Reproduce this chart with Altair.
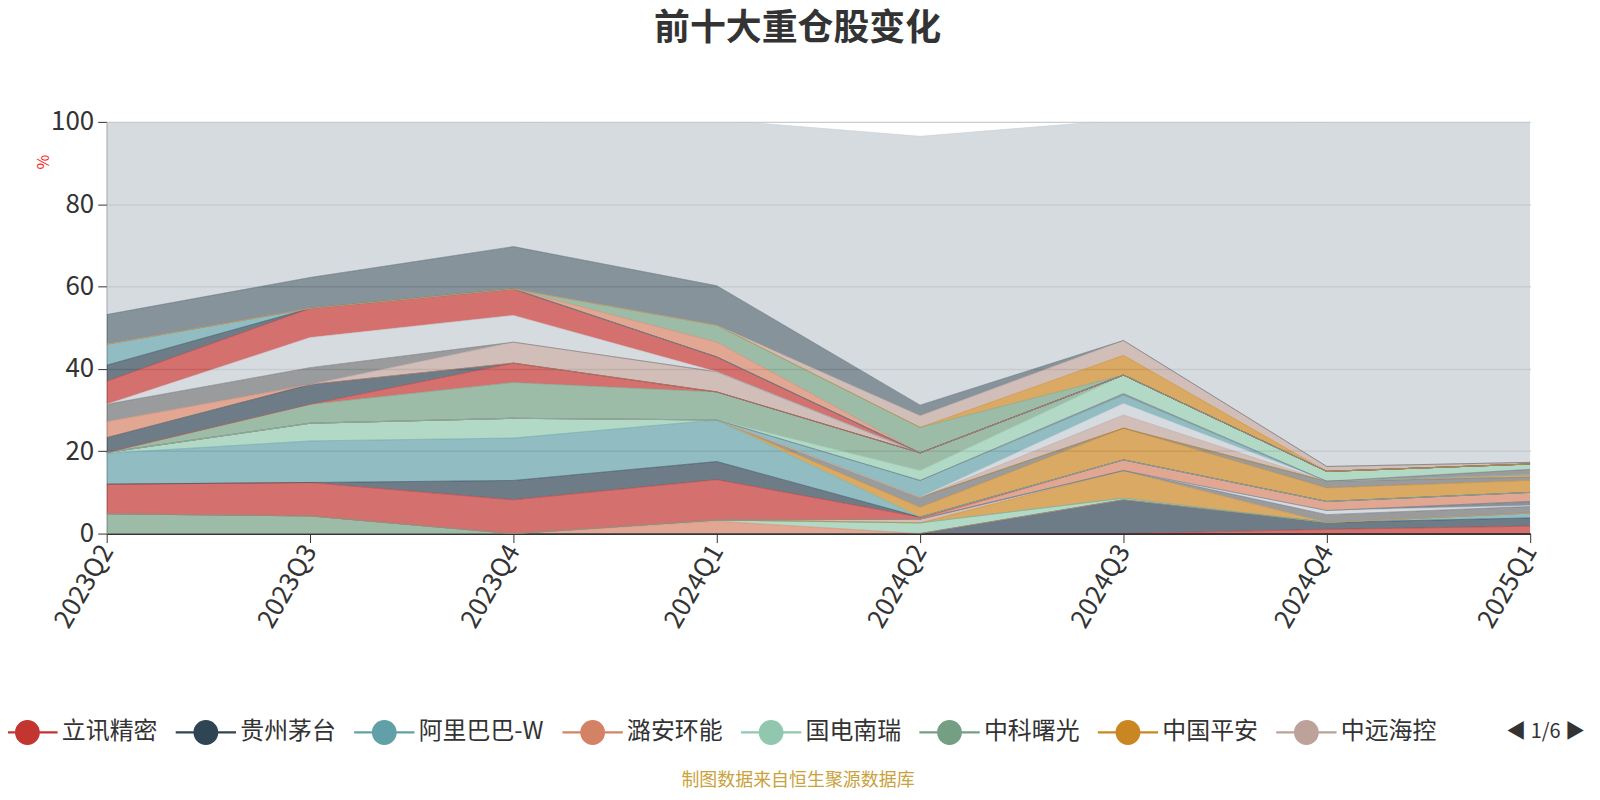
import altair as alt
import pandas as pd

QUARTERS = ["2023Q2", "2023Q3", "2023Q4", "2024Q1", "2024Q2", "2024Q3", "2024Q4", "2025Q1"]

PALETTE = {"R": "#c23531", "N": "#2f4554", "T": "#61a0a8", "S": "#d48265", "M": "#91c7ae",
           "G": "#749f83", "O": "#ca8622", "B": "#bda29a", "Gy": "#6e7074", "Sl": "#546570",
           "L": "#c4ccd3"}

# stack order: bottom -> top
NAMES = ["立讯精密", "贵州茅台", "阿里巴巴-W", "潞安环能", "国电南瑞", "中科曙光", "中国平安", "中远海控",
         "紫金矿业", "美的集团", "腾讯控股", "招商银行", "宁德时代", "中际旭创", "迈瑞医疗", "海康威视",
         "长江电力", "中国海油", "中国神华", "工业富联", "小米集团-W", "美团-W", "中国移动", "陕西煤业",
         "北方华创", "东方财富", "比亚迪", "兖矿能源", "泸州老窖", "五粮液", "隆基绿能", "山西汾酒",
         "恒瑞医药", "药明康德", "万华化学", "汇川技术", "中芯国际", "洛阳钼业", "招商轮船", "其他"]

COLOR_KEYS = ["R", "N", "T", "S", "M", "G", "O", "B",
              "Gy", "L", "Sl", "S", "R", "N", "T", "M",
              "O", "Gy", "O", "B", "L", "T", "Gy", "M",
              "G", "R", "N", "S", "B", "Gy", "L", "R",
              "N", "T", "S", "G", "O", "B", "Sl", "L"]

VALUES = [
    [0, 0, 0, 0, 0, 0, 1.0, 1.8],
    [0, 0, 0, 0, 0, 8.2, 1.7, 2.0],
    [0, 0, 0, 0, 0, 0, 0, 1.2],
    [0, 0, 0, 3.0, 0, 0, 0, 0],
    [0, 0, 0, 0.3, 2.6, 0.4, 0, 0],
    [4.8, 4.3, 0, 0, 0, 0, 0, 0],
    [0, 0, 0, 0, 0, 6.7, 0, 0],
    [0, 0, 0, 0, 0.9, 0, 0, 0],
    [0, 0, 0, 0, 0, 0, 1.9, 1.6],
    [0, 0, 0, 0, 0, 0, 1.0, 0.2],
    [0, 0, 0, 0, 0, 0, 0, 1.0],
    [0, 0, 0, 0, 0, 2.6, 2.2, 2.2],
    [7.2, 8.1, 8.2, 9.8, 0.5, 0, 0, 0],
    [0, 0, 4.7, 4.4, 0, 0, 0, 0],
    [7.5, 10.1, 10.3, 10.1, 0, 0, 0, 0],
    [0.2, 4.3, 4.8, 0, 0, 0, 0, 0],
    [0, 0, 0, 0, 2.4, 7.7, 3.3, 2.9],
    [0, 0, 0, 0, 2.4, 0, 1.6, 0.8],
    [0, 0, 0, 0, 0, 0, 0, 0.6],
    [0, 0, 0, 0, 0, 3.2, 0, 0],
    [0, 0, 0, 0, 0, 2.8, 0, 0],
    [0, 0, 0, 0, 4.1, 2.0, 0, 0],
    [0, 0, 0, 0, 0, 0.4, 0, 1.3],
    [0, 0, 0, 0, 2.4, 4.5, 2.4, 1.3],
    [0, 4.6, 8.7, 6.8, 4.3, 0, 0, 0],
    [0, 0, 4.7, 0, 0, 0, 0, 0],
    [3.6, 4.8, 0, 0, 0, 0, 0, 0],
    [3.9, 0, 0, 0, 0, 0, 0, 0],
    [0, 0, 5.1, 4.9, 0, 0, 0, 0],
    [4.2, 4.1, 0, 0, 0, 0, 0, 0],
    [0, 7.3, 6.5, 0, 0, 0, 0, 0],
    [5.6, 7.1, 6.4, 3.6, 0, 0, 0, 0],
    [3.9, 0, 0, 0, 0, 0, 0, 0],
    [5.1, 0, 0, 0, 0, 0, 0, 0],
    [0, 0, 0, 3.6, 0, 0, 0, 0],
    [0, 0, 0, 4.1, 6.2, 0, 0, 0],
    [0, 0, 0, 0, 0, 4.8, 0, 0],
    [0, 0, 0, 0, 2.8, 3.6, 1.2, 0.4],
    [7.2, 7.5, 10.3, 9.6, 2.6, 0, 0, 0],
    [46.8, 37.8, 30.3, 40.3, 65.3, 53.6, 83.7, 82.7],
]

LEGEND_SHOWN = NAMES[:8]
TITLE = "前十大重仓股变化"
FOOTER = "制图数据来自恒生聚源数据库"
PAGER = "◀ 1/6 ▶"
Y_TICKS = [0, 20, 40, 60, 80, 100]

rows = []
for i, (name, vals) in enumerate(zip(NAMES, VALUES)):
    for q, v in zip(QUARTERS, vals):
        rows.append({"quarter": q, "name": name, "value": v, "order": i})
df = pd.DataFrame(rows)
COLORS = [PALETTE[k] for k in COLOR_KEYS]

FONT = "Noto Sans CJK SC"
SYMBOL = ("M-2.43,-0.09L2.43,-0.09L2.43,0.09L-2.43,0.09Z "
          "M-1,0A1,1 0 1,1 1,0A1,1 0 1,1 -1,0Z")

base = alt.Chart(df).transform_stack(
    stack="value", groupby=["quarter"], as_=["y0", "y1"],
    sort=[alt.SortField("order", order="ascending")],
)

x_enc = alt.X(
    "quarter:O", sort=QUARTERS, scale=alt.Scale(padding=0),
    axis=alt.Axis(labelAngle=-60, labelFontSize=26, labelColor="#333", labelFont=FONT,
                  labelPadding=4, tickSize=9, tickColor="#333", domainColor="#333",
                  domainWidth=2, grid=False,
                  title=FOOTER, titleColor="#c9a23c", titleFontSize=18, titleFont=FONT,
                  titleFontWeight="normal", titleX=693, titleY=248, titleAlign="center",
                  titleBaseline="middle"),
)
y_scale = alt.Scale(domain=[0, 100], nice=False)
y_axis = alt.Axis(values=Y_TICKS, labelFontSize=26, labelColor="#333", labelFont=FONT,
                  labelPadding=4, tickSize=9, tickColor="#333", domainColor="#777",
                  gridColor="#cccccc", gridWidth=1.5,
                  title="%", titleColor="#ff2020", titleFontSize=16, titleFont=FONT,
                  titleFontWeight="normal", titleX=-63, titleY=40, titleAngle=-90,
                  titleAlign="center", titleBaseline="middle")

area = base.mark_area(opacity=0.7, clip=True, interpolate="linear").encode(
    x=x_enc,
    y=alt.Y("y1:Q", scale=y_scale, axis=y_axis),
    y2="y0:Q",
    color=alt.Color(
        "name:N", scale=alt.Scale(domain=NAMES, range=COLORS),
        legend=alt.Legend(
            orient="none", legendX=-92, legendY=600, direction="horizontal",
            values=LEGEND_SHOWN, symbolType=SYMBOL, symbolSize=620, symbolOpacity=1,
            symbolStrokeWidth=0, labelFontSize=24, labelFont=FONT, labelColor="#333",
            labelOffset=22, columnPadding=18, padding=0,
            title=PAGER, titleOrient="right", titleFontSize=20, titleColor="#333",
            titleFontWeight="normal", titlePadding=70, titleFont=FONT,
        ),
    ),
)

lines = base.mark_line(strokeWidth=1, opacity=0.55, clip=True).encode(
    x=alt.X("quarter:O", sort=QUARTERS),
    y=alt.Y("y1:Q", scale=y_scale),
    stroke=alt.Stroke("name:N", scale=alt.Scale(domain=NAMES, range=COLORS), legend=None),
    detail="name:N",
)

chart = alt.layer(area, lines).properties(
    width=1428, height=413,
    title=alt.TitleParams(TITLE, fontSize=36, fontWeight="bold", color="#333", font=FONT,
                          anchor="middle", dx=-21, offset=25, baseline="bottom"),
    autosize=alt.AutoSizeParams(type="none"),
    padding={"left": 99, "top": 113, "right": 62, "bottom": 258},
).configure_view(stroke="transparent")

chart.save("out.html", embed_options={"renderer": "svg", "actions": False})
